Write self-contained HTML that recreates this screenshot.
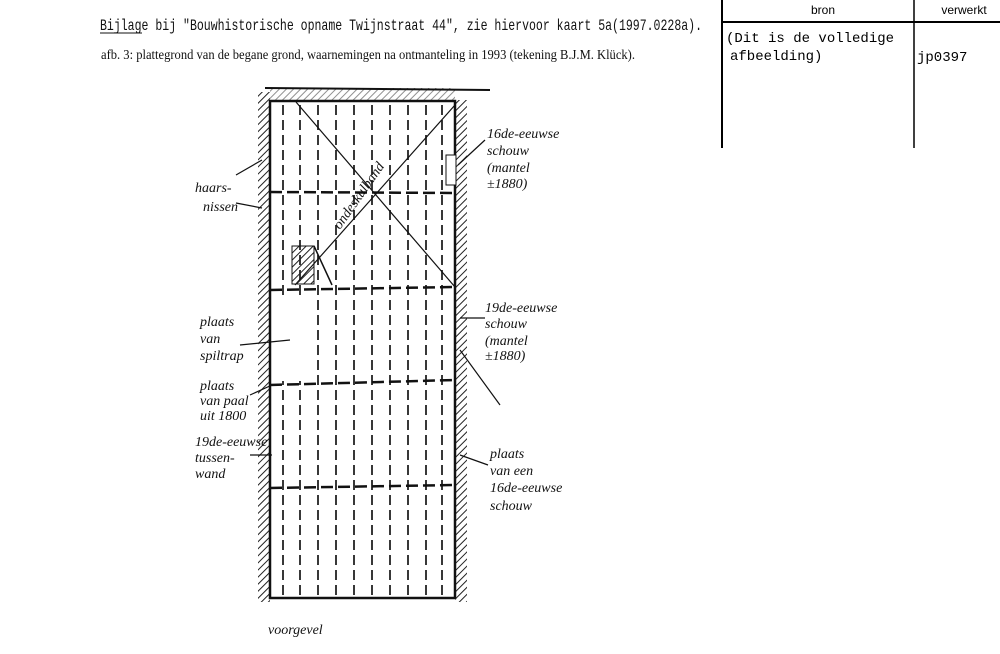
<!DOCTYPE html>
<html><head><meta charset="utf-8"><style>
html,body{margin:0;padding:0;background:#fff;}
svg{display:block}
.h{font-family:"Liberation Serif",serif;font-style:italic;font-size:14px;fill:#111}
</style></head><body>
<svg width="1000" height="654" viewBox="0 0 1000 654" xmlns="http://www.w3.org/2000/svg">
<defs>
<pattern id="hat" width="5" height="5" patternUnits="userSpaceOnUse" patternTransform="rotate(45)">
<line x1="0" y1="0" x2="0" y2="5" stroke="#222" stroke-width="2"/>
</pattern>
</defs>
<!-- header -->
<text x="100" y="30" font-family="Liberation Mono,monospace" font-size="16" textLength="602" lengthAdjust="spacingAndGlyphs" fill="#111">Bijlage bij "Bouwhistorische opname Twijnstraat 44", zie hiervoor kaart 5a(1997.0228a).</text>
<line x1="100" y1="33" x2="142" y2="33" stroke="#111" stroke-width="1"/>
<text x="101" y="59" font-family="Liberation Serif,serif" font-size="14" textLength="534" lengthAdjust="spacingAndGlyphs" fill="#111">afb. 3:  plattegrond van de begane grond, waarnemingen na ontmanteling in 1993 (tekening B.J.M. Klück).</text>
<!-- table -->
<line x1="722" y1="0" x2="722" y2="148" stroke="#000" stroke-width="2"/>
<line x1="914" y1="0" x2="914" y2="148" stroke="#000" stroke-width="1.5"/>
<line x1="722" y1="22" x2="1000" y2="22" stroke="#000" stroke-width="2"/>
<text x="823" y="14" font-family="Liberation Sans,sans-serif" font-size="12" text-anchor="middle">bron</text>
<text x="964" y="14" font-family="Liberation Sans,sans-serif" font-size="12" text-anchor="middle">verwerkt</text>
<text x="726" y="42" font-family="Liberation Mono,monospace" font-size="14">(Dit is de volledige</text>
<text x="730" y="60" font-family="Liberation Mono,monospace" font-size="14">afbeelding)</text>
<text x="917" y="61" font-family="Liberation Mono,monospace" font-size="14">jp0397</text>

<!-- building -->
<rect x="258" y="92" width="12" height="510" fill="url(#hat)"/>
<rect x="455" y="100" width="12" height="502" fill="url(#hat)"/>
<rect x="270" y="88" width="185" height="12" fill="url(#hat)" opacity="0.5"/>
<line x1="265" y1="88" x2="490" y2="90" stroke="#111" stroke-width="2"/>
<rect x="270" y="101" width="185" height="497" fill="none" stroke="#111" stroke-width="2.5"/>
<g stroke="#222" stroke-width="1.8" stroke-dasharray="10,5">
<line x1="283" y1="105" x2="283" y2="595"/><line x1="300" y1="105" x2="300" y2="595"/>
<line x1="318" y1="105" x2="318" y2="595"/><line x1="336" y1="105" x2="336" y2="595"/>
<line x1="354" y1="105" x2="354" y2="595"/><line x1="372" y1="105" x2="372" y2="595"/>
<line x1="390" y1="105" x2="390" y2="595"/><line x1="408" y1="105" x2="408" y2="595"/>
<line x1="426" y1="105" x2="426" y2="595"/><line x1="442" y1="105" x2="442" y2="595"/>
</g>
<g stroke="#111" stroke-width="2.5" stroke-dasharray="12,5">
<line x1="270" y1="192" x2="455" y2="193"/>
<line x1="270" y1="290" x2="455" y2="287"/>
<line x1="270" y1="385" x2="455" y2="380"/>
<line x1="270" y1="488" x2="455" y2="485"/>
</g>
<rect x="272" y="297" width="38" height="84" fill="#fff"/>
<line x1="296" y1="102" x2="455" y2="287" stroke="#111" stroke-width="1.2"/>
<line x1="455" y1="105" x2="295" y2="285" stroke="#111" stroke-width="1.2"/>
<rect x="292" y="246" width="22" height="38" fill="url(#hat)" stroke="#111"/>
<line x1="314" y1="246" x2="332" y2="285" stroke="#111" stroke-width="1.5"/>
<rect x="446" y="155" width="10" height="30" fill="#fff" stroke="#111"/>
<text x="340" y="230" class="h" font-size="13" transform="rotate(-55 340 230)">ondeskulband</text>
<!-- labels -->
<text x="195" y="192" class="h">haars-</text><text x="203" y="211" class="h">nissen</text>
<text x="487" y="138" class="h">16de-eeuwse</text><text x="487" y="155" class="h">schouw</text>
<text x="487" y="172" class="h">(mantel</text><text x="487" y="188" class="h">±1880)</text>
<text x="200" y="326" class="h">plaats</text><text x="200" y="343" class="h">van</text><text x="200" y="360" class="h">spiltrap</text>
<text x="485" y="312" class="h">19de-eeuwse</text><text x="485" y="328" class="h">schouw</text>
<text x="485" y="345" class="h">(mantel</text><text x="485" y="360" class="h">±1880)</text>
<text x="200" y="390" class="h">plaats</text><text x="200" y="405" class="h">van paal</text><text x="200" y="420" class="h">uit 1800</text>
<text x="195" y="446" class="h">19de-eeuwse</text><text x="195" y="462" class="h">tussen-</text><text x="195" y="478" class="h">wand</text>
<text x="490" y="458" class="h">plaats</text><text x="490" y="475" class="h">van een</text>
<text x="490" y="492" class="h">16de-eeuwse</text><text x="490" y="510" class="h">schouw</text>
<text x="268" y="634" class="h">voorgevel</text>
<g stroke="#111" stroke-width="1.2" fill="none">
<line x1="236" y1="175" x2="262" y2="160"/><line x1="236" y1="203" x2="262" y2="208"/>
<line x1="485" y1="140" x2="458" y2="165"/>
<line x1="240" y1="345" x2="290" y2="340"/>
<line x1="485" y1="318" x2="460" y2="318"/>
<line x1="250" y1="395" x2="272" y2="385"/><line x1="250" y1="455" x2="272" y2="455"/>
<line x1="488" y1="465" x2="460" y2="455"/>
<line x1="460" y1="350" x2="500" y2="405"/>
</g>
</svg>
</body></html>
